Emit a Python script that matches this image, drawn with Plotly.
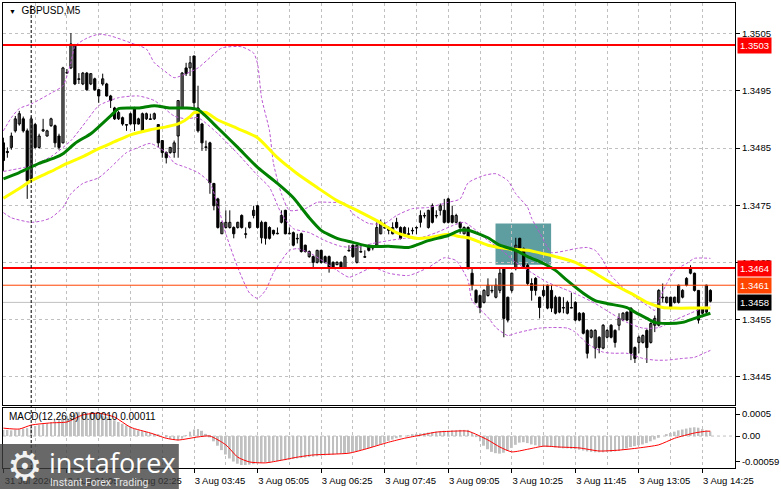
import plotly.graph_objects as go

chart_title = "GBPUSD,M5"
macd_title = "MACD(12,26,9) 0.00010 0.00011"

# M5 candles, left to right
bar_open = [1.34859, 1.34844, 1.34851, 1.34880, 1.34892, 1.34901, 1.34880, 1.34796, 1.34891, 1.34851,
            1.34880, 1.34871, 1.34889, 1.34889, 1.34871, 1.34859, 1.34982, 1.34990, 1.35030, 1.34971,
            1.34962, 1.34981, 1.34962, 1.34971, 1.34952, 1.34962, 1.34962, 1.34941, 1.34920, 1.34901,
            1.34903, 1.34891, 1.34892, 1.34920, 1.34892, 1.34880, 1.34901, 1.34901, 1.34901, 1.34891,
            1.34863, 1.34842, 1.34842, 1.34842, 1.34871, 1.34920, 1.34990, 1.34990, 1.35011, 1.34920,
            1.34892, 1.34852, 1.34859, 1.34788, 1.34761, 1.34700, 1.34711, 1.34711, 1.34711, 1.34711,
            1.34732, 1.34700, 1.34711, 1.34732, 1.34749, 1.34693, 1.34720, 1.34711, 1.34706, 1.34701,
            1.34720, 1.34741, 1.34700, 1.34702, 1.34692, 1.34700, 1.34680, 1.34660, 1.34660, 1.34650,
            1.34671, 1.34660, 1.34660, 1.34650, 1.34646, 1.34650, 1.34641, 1.34671, 1.34680, 1.34650,
            1.34669, 1.34660, 1.34680, 1.34676, 1.34680, 1.34700, 1.34711, 1.34711, 1.34700, 1.34720,
            1.34711, 1.34700, 1.34700, 1.34706, 1.34711, 1.34720, 1.34732, 1.34711, 1.34749, 1.34732,
            1.34741, 1.34741, 1.34761, 1.34732, 1.34720, 1.34720, 1.34700, 1.34711, 1.34631, 1.34601,
            1.34592, 1.34580, 1.34592, 1.34601, 1.34589, 1.34601, 1.34639, 1.34589, 1.34601, 1.34639,
            1.34692, 1.34674, 1.34645, 1.34613, 1.34622, 1.34589, 1.34592, 1.34570, 1.34601, 1.34561,
            1.34563, 1.34571, 1.34561, 1.34571, 1.34580, 1.34561, 1.34561, 1.34531, 1.34519, 1.34500,
            1.34519, 1.34500, 1.34519, 1.34540, 1.34531, 1.34540, 1.34549, 1.34563, 1.34570, 1.34501,
            1.34510, 1.34510, 1.34531, 1.34510, 1.34540, 1.34540, 1.34589, 1.34580, 1.34589, 1.34580,
            1.34580, 1.34589, 1.34610, 1.34631, 1.34631, 1.34601, 1.34561, 1.34563, 1.34601]
bar_high = [1.34868, 1.34851, 1.34877, 1.34906, 1.34915, 1.34905, 1.34884, 1.34905, 1.34894, 1.34875,
            1.34901, 1.34882, 1.34903, 1.34891, 1.34875, 1.34992, 1.34988, 1.35051, 1.35032, 1.34981,
            1.34983, 1.34983, 1.34981, 1.34973, 1.34953, 1.34980, 1.34964, 1.34943, 1.34922, 1.34915,
            1.34905, 1.34892, 1.34912, 1.34922, 1.34903, 1.34912, 1.34912, 1.34910, 1.34912, 1.34892,
            1.34864, 1.34844, 1.34852, 1.34863, 1.34934, 1.34983, 1.34999, 1.35011, 1.35011, 1.34959,
            1.34894, 1.34863, 1.34861, 1.34789, 1.34763, 1.34721, 1.34741, 1.34741, 1.34713, 1.34721,
            1.34734, 1.34711, 1.34721, 1.34749, 1.34751, 1.34723, 1.34721, 1.34713, 1.34707, 1.34711,
            1.34741, 1.34742, 1.34711, 1.34704, 1.34700, 1.34702, 1.34681, 1.34671, 1.34662, 1.34672,
            1.34672, 1.34662, 1.34662, 1.34652, 1.34652, 1.34652, 1.34662, 1.34680, 1.34681, 1.34681,
            1.34680, 1.34671, 1.34681, 1.34680, 1.34720, 1.34725, 1.34720, 1.34713, 1.34720, 1.34728,
            1.34713, 1.34713, 1.34711, 1.34711, 1.34713, 1.34741, 1.34737, 1.34742, 1.34753, 1.34741,
            1.34753, 1.34761, 1.34763, 1.34749, 1.34735, 1.34721, 1.34713, 1.34713, 1.34641, 1.34603,
            1.34594, 1.34603, 1.34622, 1.34610, 1.34622, 1.34641, 1.34641, 1.34590, 1.34632, 1.34693,
            1.34693, 1.34676, 1.34648, 1.34622, 1.34624, 1.34590, 1.34611, 1.34611, 1.34610, 1.34592,
            1.34590, 1.34589, 1.34583, 1.34597, 1.34582, 1.34563, 1.34563, 1.34533, 1.34533, 1.34533,
            1.34521, 1.34542, 1.34533, 1.34542, 1.34533, 1.34561, 1.34563, 1.34564, 1.34571, 1.34503,
            1.34522, 1.34524, 1.34533, 1.34545, 1.34557, 1.34603, 1.34613, 1.34590, 1.34590, 1.34590,
            1.34611, 1.34603, 1.34624, 1.34645, 1.34632, 1.34601, 1.34571, 1.34611, 1.34603]
bar_low = [1.34810, 1.34833, 1.34847, 1.34877, 1.34889, 1.34877, 1.34761, 1.34793, 1.34849, 1.34849,
           1.34878, 1.34870, 1.34887, 1.34851, 1.34847, 1.34858, 1.34980, 1.34988, 1.34960, 1.34962,
           1.34960, 1.34950, 1.34960, 1.34950, 1.34929, 1.34959, 1.34940, 1.34920, 1.34899, 1.34899,
           1.34889, 1.34880, 1.34891, 1.34880, 1.34891, 1.34878, 1.34899, 1.34899, 1.34899, 1.34851,
           1.34833, 1.34823, 1.34840, 1.34833, 1.34833, 1.34919, 1.34976, 1.34976, 1.34920, 1.34877,
           1.34845, 1.34845, 1.34770, 1.34741, 1.34709, 1.34700, 1.34709, 1.34709, 1.34692, 1.34709,
           1.34709, 1.34692, 1.34709, 1.34727, 1.34709, 1.34683, 1.34681, 1.34690, 1.34697, 1.34699,
           1.34718, 1.34699, 1.34699, 1.34678, 1.34683, 1.34667, 1.34667, 1.34658, 1.34641, 1.34648,
           1.34648, 1.34648, 1.34632, 1.34639, 1.34645, 1.34639, 1.34639, 1.34669, 1.34658, 1.34648,
           1.34667, 1.34658, 1.34669, 1.34671, 1.34678, 1.34699, 1.34709, 1.34699, 1.34699, 1.34709,
           1.34690, 1.34699, 1.34699, 1.34699, 1.34699, 1.34711, 1.34727, 1.34709, 1.34718, 1.34727,
           1.34732, 1.34718, 1.34718, 1.34718, 1.34718, 1.34700, 1.34699, 1.34638, 1.34601, 1.34578,
           1.34561, 1.34578, 1.34590, 1.34596, 1.34587, 1.34596, 1.34519, 1.34545, 1.34597, 1.34636,
           1.34671, 1.34639, 1.34610, 1.34583, 1.34592, 1.34552, 1.34589, 1.34568, 1.34563, 1.34559,
           1.34561, 1.34561, 1.34559, 1.34570, 1.34547, 1.34547, 1.34524, 1.34482, 1.34517, 1.34482,
           1.34491, 1.34498, 1.34517, 1.34517, 1.34501, 1.34531, 1.34547, 1.34547, 1.34479, 1.34474,
           1.34491, 1.34508, 1.34474, 1.34508, 1.34528, 1.34538, 1.34580, 1.34578, 1.34568, 1.34578,
           1.34578, 1.34587, 1.34608, 1.34629, 1.34599, 1.34543, 1.34559, 1.34561, 1.34580]
bar_close = [1.34828, 1.34842, 1.34871, 1.34901, 1.34910, 1.34880, 1.34793, 1.34901, 1.34851, 1.34871,
             1.34882, 1.34880, 1.34901, 1.34859, 1.34851, 1.34990, 1.34981, 1.35032, 1.34962, 1.34970,
             1.34981, 1.34952, 1.34980, 1.34952, 1.34941, 1.34971, 1.34941, 1.34933, 1.34901, 1.34912,
             1.34892, 1.34890, 1.34910, 1.34892, 1.34901, 1.34910, 1.34910, 1.34900, 1.34910, 1.34859,
             1.34842, 1.34833, 1.34851, 1.34859, 1.34933, 1.34981, 1.34980, 1.34999, 1.34929, 1.34880,
             1.34859, 1.34851, 1.34789, 1.34749, 1.34711, 1.34720, 1.34720, 1.34720, 1.34700, 1.34720,
             1.34711, 1.34699, 1.34720, 1.34741, 1.34711, 1.34720, 1.34692, 1.34692, 1.34700, 1.34700,
             1.34732, 1.34700, 1.34701, 1.34680, 1.34691, 1.34669, 1.34669, 1.34669, 1.34650, 1.34671,
             1.34650, 1.34650, 1.34641, 1.34641, 1.34650, 1.34641, 1.34660, 1.34670, 1.34660, 1.34680,
             1.34668, 1.34659, 1.34671, 1.34675, 1.34711, 1.34720, 1.34710, 1.34706, 1.34711, 1.34711,
             1.34692, 1.34711, 1.34699, 1.34705, 1.34710, 1.34732, 1.34731, 1.34741, 1.34720, 1.34731,
             1.34749, 1.34720, 1.34720, 1.34720, 1.34732, 1.34711, 1.34711, 1.34639, 1.34610, 1.34580,
             1.34571, 1.34601, 1.34610, 1.34600, 1.34610, 1.34631, 1.34552, 1.34549, 1.34631, 1.34680,
             1.34674, 1.34641, 1.34613, 1.34601, 1.34601, 1.34571, 1.34601, 1.34610, 1.34570, 1.34589,
             1.34589, 1.34570, 1.34580, 1.34570, 1.34549, 1.34549, 1.34526, 1.34491, 1.34531, 1.34531,
             1.34501, 1.34540, 1.34531, 1.34519, 1.34510, 1.34552, 1.34561, 1.34549, 1.34491, 1.34482,
             1.34519, 1.34522, 1.34501, 1.34543, 1.34552, 1.34601, 1.34588, 1.34589, 1.34570, 1.34589,
             1.34610, 1.34601, 1.34622, 1.34641, 1.34601, 1.34549, 1.34570, 1.34610, 1.34582]

# moving averages (bar index, price)
green_idx = [0, 4, 9, 13, 15, 18, 22, 24, 27, 29, 34, 38, 42, 46, 49, 54, 59, 64, 69, 73,
             77, 80, 84, 88, 92, 97, 102, 107, 112, 115, 117, 122, 125, 129, 132, 136, 139, 142, 146, 149,
             152, 157, 159, 162, 164, 167, 171, 174, 178]
green_val = [1.34796, 1.34807, 1.34823, 1.34833, 1.34840, 1.34858, 1.34875, 1.34887, 1.34906, 1.34919,
             1.34920, 1.34924, 1.34920, 1.34920, 1.34917, 1.34885, 1.34851, 1.34816, 1.34788, 1.34763,
             1.34728, 1.34706, 1.34692, 1.34685, 1.34678, 1.34678, 1.34676, 1.34688, 1.34697, 1.34706,
             1.34706, 1.34693, 1.34680, 1.34671, 1.34660, 1.34648, 1.34636, 1.34618, 1.34596, 1.34583,
             1.34578, 1.34571, 1.34563, 1.34552, 1.34545, 1.34543, 1.34545, 1.34552, 1.34561]
yellow_idx = [0, 4, 7, 12, 16, 20, 24, 28, 32, 37, 41, 44, 47, 48, 51, 54, 59, 64, 69, 74,
              79, 84, 89, 94, 99, 104, 107, 112, 115, 117, 122, 127, 132, 136, 139, 144, 149, 154, 159, 162,
              166, 169, 174, 178]
yellow_val = [1.34762, 1.34779, 1.34793, 1.34809, 1.34823, 1.34835, 1.34849, 1.34861, 1.34873, 1.34882,
              1.34887, 1.34892, 1.34905, 1.34912, 1.34912, 1.34899, 1.34884, 1.34868, 1.34833, 1.34805,
              1.34781, 1.34758, 1.34741, 1.34723, 1.34702, 1.34692, 1.34693, 1.34699, 1.34695, 1.34693,
              1.34680, 1.34674, 1.34671, 1.34665, 1.34660, 1.34650, 1.34631, 1.34610, 1.34592, 1.34580,
              1.34571, 1.34570, 1.34570, 1.34570]

# bollinger bands
bb_upper_idx = [0, 2, 4, 7, 12, 15, 17, 18, 21, 24, 27, 32, 36, 38, 40, 43, 46, 49, 52, 55,
                60, 63, 64, 65, 67, 68, 70, 72, 76, 79, 82, 86, 88, 92, 96, 99, 103, 107, 112, 115,
                117, 121, 124, 127, 129, 132, 133, 135, 137, 138, 142, 144, 147, 149, 151, 153, 156, 159, 162, 164,
                165, 167, 169, 172, 174, 178]
bb_upper_val = [1.34880, 1.34903, 1.34919, 1.34927, 1.34946, 1.34959, 1.34999, 1.35028, 1.35042, 1.35049,
                1.35046, 1.35034, 1.35023, 1.34999, 1.34988, 1.34973, 1.34980, 1.34990, 1.35008, 1.35025,
                1.35027, 1.35016, 1.34997, 1.34938, 1.34880, 1.34823, 1.34770, 1.34741, 1.34744, 1.34755,
                1.34755, 1.34753, 1.34735, 1.34718, 1.34718, 1.34732, 1.34744, 1.34746, 1.34755, 1.34761,
                1.34789, 1.34802, 1.34805, 1.34793, 1.34770, 1.34746, 1.34727, 1.34702, 1.34676, 1.34667,
                1.34671, 1.34674, 1.34676, 1.34671, 1.34653, 1.34627, 1.34606, 1.34589, 1.34575, 1.34566,
                1.34583, 1.34613, 1.34636, 1.34648, 1.34657, 1.34657]
bb_mid_idx = [0, 7, 12, 17, 21, 24, 29, 34, 38, 43, 46, 49, 54, 59, 64, 67, 70, 73, 77, 81,
              85, 89, 93, 97, 101, 105, 109, 113, 116, 119, 122, 125, 129, 133, 137, 141, 145, 149, 153, 157,
              161, 165, 169, 173, 176, 178]
bb_mid_val = [1.34809, 1.34819, 1.34835, 1.34863, 1.34898, 1.34924, 1.34938, 1.34941, 1.34933, 1.34906,
              1.34901, 1.34903, 1.34875, 1.34840, 1.34802, 1.34781, 1.34735, 1.34709, 1.34702, 1.34688,
              1.34678, 1.34676, 1.34683, 1.34688, 1.34692, 1.34693, 1.34702, 1.34714, 1.34720, 1.34706,
              1.34688, 1.34674, 1.34650, 1.34632, 1.34615, 1.34604, 1.34592, 1.34578, 1.34561, 1.34545,
              1.34535, 1.34536, 1.34549, 1.34561, 1.34570, 1.34575]
bb_lower_idx = [0, 2, 7, 10, 12, 15, 17, 20, 24, 27, 31, 34, 37, 41, 43, 46, 49, 52, 54, 56,
                59, 62, 64, 66, 68, 70, 72, 74, 77, 81, 84, 87, 89, 93, 97, 102, 107, 111, 114, 117,
                118, 122, 124, 127, 129, 132, 135, 138, 142, 144, 147, 151, 154, 157, 161, 164, 167, 171, 174, 177,
                178]
bb_lower_val = [1.34737, 1.34728, 1.34720, 1.34723, 1.34728, 1.34746, 1.34770, 1.34788, 1.34798, 1.34816,
                1.34842, 1.34851, 1.34858, 1.34842, 1.34824, 1.34816, 1.34807, 1.34789, 1.34749, 1.34700,
                1.34641, 1.34596, 1.34587, 1.34601, 1.34632, 1.34653, 1.34671, 1.34674, 1.34667, 1.34650,
                1.34636, 1.34624, 1.34629, 1.34641, 1.34631, 1.34627, 1.34641, 1.34658, 1.34653, 1.34618,
                1.34583, 1.34554, 1.34536, 1.34522, 1.34526, 1.34531, 1.34535, 1.34536, 1.34535, 1.34528,
                1.34508, 1.34493, 1.34491, 1.34491, 1.34482, 1.34479, 1.34479, 1.34482, 1.34484, 1.34493,
                1.34496]

# MACD main (histogram, one per bar) and signal line
macd_hist = [0.00014, 0.00014, 0.00013, 0.00014, 0.00015, 0.00017, 0.00018, 0.00020,
             0.00023, 0.00025, 0.00027, 0.00029, 0.00031, 0.00033, 0.00036, 0.00040,
             0.00046, 0.00050, 0.00053, 0.00055, 0.00055, 0.00054, 0.00053, 0.00051,
             0.00049, 0.00046, 0.00043, 0.00040, 0.00036, 0.00032, 0.00028, 0.00024, 0.00020,
             0.00016, 0.00013, 0.00011, 0.00009, 0.00007, 0.00005, 0.00003,
             0.0, -0.00003, -0.00006, -0.00009, -0.00010,
             -0.00006, 0.00002, 0.00010, 0.00015, 0.00016,
             0.00012, 0.00005, -0.00003, -0.00012,
             -0.00022, -0.00032, -0.00042, -0.00051, -0.00058, -0.00063, -0.00066,
             -0.00066, -0.00065, -0.00064, -0.00062,
             -0.00061, -0.00060, -0.00059, -0.00058, -0.00057, -0.00056, -0.00055, -0.00054, -0.00052, -0.00051,
             -0.00050, -0.00049, -0.00048, -0.00047, -0.00046, -0.00045, -0.00044, -0.00043, -0.00042, -0.00041,
             -0.00040, -0.00039, -0.00038, -0.00036, -0.00034, -0.00032, -0.00030, -0.00028, -0.00025, -0.00022,
             -0.00019, -0.00015,
             -0.00011, -0.00008, -0.00005, -0.00003, 0.0, 0.00002,
             0.00004, 0.00005, 0.00006, 0.00007, 0.00008, 0.00009, 0.00010, 0.00011, 0.00012, 0.00012,
             0.00013, 0.00013, 0.00014, 0.00014, 0.00014,
             0.00008, -0.00002, -0.00012,
             -0.00022, -0.00030, -0.00036, -0.00039, -0.00040, -0.00038,
             -0.00033, -0.00027, -0.00020, -0.00015, -0.00014, -0.00016,
             -0.00019, -0.00021, -0.00023, -0.00024, -0.00025, -0.00025, -0.00026, -0.00027, -0.00028, -0.00028,
             -0.00029, -0.00030, -0.00031, -0.00033,
             -0.00035, -0.00036, -0.00037, -0.00037, -0.00037, -0.00036, -0.00036, -0.00035, -0.00034,
             -0.00032, -0.00028, -0.00025, -0.00023, -0.00021, -0.00019, -0.00016, -0.00012, -0.00008, -0.00004, 0.0,
             0.00004, 0.00007, 0.00010, 0.00013, 0.00015, 0.00017, 0.00019, 0.00020, 0.00019, 0.00016, 0.00013, 0.00010]
signal_idx = [0, 4, 7, 12, 16, 20, 24, 28, 32, 37, 41, 44, 49, 52, 56, 59, 62, 66, 70, 74,
              78, 87, 91, 97, 101, 105, 109, 113, 117, 122, 125, 128, 132, 136, 140, 145, 150, 155, 160, 165,
              169, 174, 177, 178]
signal_val = [0.00018, 0.00016, 0.00025, 0.00030, 0.00032, 0.00048, 0.00052, 0.00043, 0.00020, 0.00007,
              -0.00005, -0.00009, -0.00002, 0.0, -0.00020, -0.00048, -0.00059, -0.00061, -0.00055, -0.00048,
              -0.00043, -0.00039, -0.00030, -0.00014, -0.00005, 0.00002, 0.00009, 0.00011, 0.00011, -0.00009,
              -0.00025, -0.00036, -0.00030, -0.00023, -0.00025, -0.00027, -0.00034, -0.00032, -0.00027, -0.00020,
              -0.00005, 0.00007, 0.00011, 0.00011]

# horizontal levels: resistance, support, entry, bid
level_prices = [1.3503, 1.3464, 1.3461, 1.3458]
# zone rectangle (bar index from/to, price from/to)
zone_bars = [123.9, 137.9]
zone_prices = [1.34646, 1.34718]
day_break_bar = 7

price_ticks = [1.3445, 1.3455, 1.3465, 1.3475, 1.3485, 1.3495, 1.3505]
macd_ticks = [-0.00059, 0.0, 0.0005]
macd_tick_text = ["-0.00059", "0.00", "0.0005"]
time_tick_bars = [0, 16, 32, 48, 64, 80, 96, 112, 128, 144, 160, 176]
time_labels = ["31 Jul 2026", "3 Aug 01:05", "3 Aug 02:25", "3 Aug 03:45", "3 Aug 05:05", "3 Aug 06:25",
               "3 Aug 07:45", "3 Aug 09:05", "3 Aug 10:25", "3 Aug 11:45", "3 Aug 13:05", "3 Aug 14:25"]

FONT = "Liberation Sans, Arial, sans-serif"
GRID = "#C0C0C0"
n = len(bar_open)
idx = list(range(n))

fig = go.Figure()

# wicks
wx, wy = [], []
for i in idx:
    wx += [i, i, None]
    wy += [bar_low[i], bar_high[i], None]
fig.add_trace(go.Scatter(x=wx, y=wy, mode="lines", line=dict(color="black", width=1),
                         hoverinfo="skip"))

# bodies
doji = 0.00001
for bull in (True, False):
    ids = [i for i in idx if (bar_close[i] >= bar_open[i]) == bull]
    base, hgt = [], []
    for i in ids:
        lo = min(bar_open[i], bar_close[i])
        h = abs(bar_close[i] - bar_open[i])
        if h < doji:
            lo = lo - (doji - h) / 2
            h = doji
        base.append(lo)
        hgt.append(h)
    fig.add_trace(go.Bar(x=ids, y=hgt, base=base, width=0.55,
                         marker=dict(color="white" if bull else "black",
                                     line=dict(color="black", width=1)),
                         hoverinfo="skip"))

# indicators
for xs, ys in ((bb_upper_idx, bb_upper_val), (bb_mid_idx, bb_mid_val), (bb_lower_idx, bb_lower_val)):
    fig.add_trace(go.Scatter(x=xs, y=ys, mode="lines",
                             line=dict(color="#BA55D3", width=1, dash="3px,2px", shape="spline", smoothing=0.6),
                             hoverinfo="skip"))
fig.add_trace(go.Scatter(x=yellow_idx, y=yellow_val, mode="lines",
                         line=dict(color="#FFFF00", width=3, shape="spline", smoothing=0.6), hoverinfo="skip"))
fig.add_trace(go.Scatter(x=green_idx, y=green_val, mode="lines",
                         line=dict(color="#008000", width=3, shape="spline", smoothing=0.6), hoverinfo="skip"))

# MACD pane
fig.add_trace(go.Bar(x=idx, y=macd_hist, width=0.5, marker=dict(color="#C0C0C0", line=dict(width=0)),
                     xaxis="x2", yaxis="y2", hoverinfo="skip"))
fig.add_trace(go.Scatter(x=signal_idx, y=signal_val, mode="lines", xaxis="x2", yaxis="y2",
                         line=dict(color="#FF0000", width=1, shape="spline", smoothing=0.6), hoverinfo="skip"))

shapes = []
shapes.append(dict(type="rect", xref="x", yref="y", x0=zone_bars[0], x1=zone_bars[1],
                   y0=zone_prices[0], y1=zone_prices[1], fillcolor="#5F9EA0", line=dict(width=0),
                   layer="below"))
level_style = [("#FF0000", 2, "above"), ("#FF0000", 2, "above"), ("#FF4500", 1, "above"), ("#C0C0C0", 1, "between")]
for p, (c, w, lay) in zip(level_prices, level_style):
    shapes.append(dict(type="line", xref="paper", yref="y", x0=0, x1=1, y0=p, y1=p,
                       line=dict(color=c, width=w), layer=lay))
shapes.append(dict(type="line", xref="paper", yref="y2", x0=0, x1=1, y0=0, y1=0,
                   line=dict(color=GRID, width=1, dash="3px,3px"), layer="below"))
shapes.append(dict(type="line", xref="x", yref="paper", x0=day_break_bar, x1=day_break_bar, y0=0, y1=1,
                   line=dict(color="black", width=1, dash="3px,2px"), layer="above"))
# watermark panel
shapes.append(dict(type="rect", xref="paper", yref="paper", x0=-0.005, x1=0.2402, y0=-0.05, y1=0.0515,
                   fillcolor="rgba(62,62,62,0.78)", line=dict(width=0), layer="above"))

annotations = []
label_bg = ["#FF0000", "#FF0000", "#FF4500", "#000000"]
for p, bg in zip(level_prices, label_bg):
    annotations.append(dict(xref="paper", yref="y", x=1, y=p, xanchor="left", yanchor="middle",
                            xshift=2, text=f"{p:.4f}", showarrow=False, bgcolor=bg, borderpad=2,
                            font=dict(family=FONT, size=9.5, color="white")))
annotations.append(dict(xref="paper", yref="paper", x=0.0054, y=0.983, xanchor="left", yanchor="middle",
                        text="<span style='font-size:7px'>▼</span>  " + chart_title, showarrow=False,
                        font=dict(family=FONT, size=10, color="black")))
annotations.append(dict(xref="paper", yref="paper", x=0.0054, y=0.1116, xanchor="left", yanchor="middle",
                        text=macd_title, showarrow=False, font=dict(family=FONT, size=10, color="black")))
annotations.append(dict(xref="paper", yref="paper", x=0.030, y=0.004, xanchor="center", yanchor="middle",
                        text="⚙", showarrow=False, font=dict(family="DejaVu Sans", size=40, color="#F2F2F2")))
annotations.append(dict(xref="paper", yref="paper", x=0.0597, y=0.012, xanchor="left", yanchor="middle",
                        text="instaforex", showarrow=False,
                        font=dict(family="Open Sans", size=27, color="white")))
annotations.append(dict(xref="paper", yref="paper", x=0.0610, y=-0.032, xanchor="left", yanchor="middle",
                        text="Instant Forex Trading", showarrow=False,
                        font=dict(family="Roboto", size=10.5, color="#E6E6E6")))

grid_x = dict(showgrid=True, gridcolor=GRID, gridwidth=1, griddash="3px,3px",
              tick0=0, dtick=16, zeroline=False, showline=True, mirror=True, linecolor="black", linewidth=1,
              minor=dict(tick0=0, dtick=8, showgrid=True, gridcolor=GRID, griddash="3px,3px", ticks=""))

fig.update_layout(
    width=781, height=489,
    margin=dict(l=3, r=41, t=2, b=21),
    paper_bgcolor="white", plot_bgcolor="white",
    showlegend=False, barmode="overlay", hovermode=False,
    xaxis=dict(domain=[0, 1], anchor="y", range=[-0.1, 184.2], showticklabels=False, ticks="", **grid_x),
    xaxis2=dict(domain=[0, 1], anchor="y2", matches="x", ticks="outside", ticklen=4, tickcolor="black",
                tickmode="array", tickvals=time_tick_bars, ticktext=time_labels, ticklabelshift=26,
                tickfont=dict(family=FONT, size=9.5, color="black"),
                **{k: v for k, v in grid_x.items() if k not in ("tick0", "dtick")}),
    yaxis=dict(domain=[0.1352, 1], anchor="x", side="right", range=[1.344003, 1.351036],
               tickmode="array", tickvals=price_ticks, ticktext=[f"{v:.4f}" for v in price_ticks],
               ticks="outside", ticklen=4, tickcolor="black",
               tickfont=dict(family=FONT, size=9.5, color="black"),
               showgrid=True, gridcolor=GRID, griddash="3px,3px", zeroline=False,
               showline=True, mirror=True, linecolor="black", linewidth=1),
    yaxis2=dict(domain=[0, 0.1288], anchor="x2", side="right", range=[-0.000727, 0.000636],
                tickmode="array", tickvals=macd_ticks, ticktext=macd_tick_text,
                ticks="outside", ticklen=4, tickcolor="black",
                tickfont=dict(family=FONT, size=9.5, color="black"),
                showgrid=False, zeroline=False, showline=True, mirror=True, linecolor="black", linewidth=1),
    shapes=shapes,
    annotations=annotations,
)

# the page body has a default 8px margin; drop it so the figure sits at the window corner
fig.write_html("out.html", config={"displayModeBar": False},
               post_script="document.body.style.margin='0';")
